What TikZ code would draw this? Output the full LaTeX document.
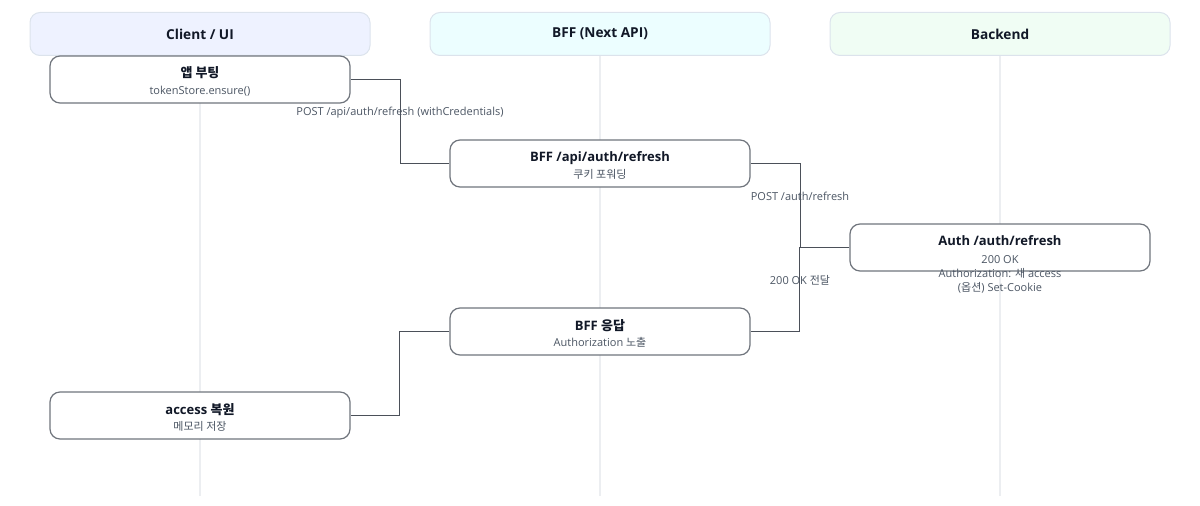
\documentclass[tikz,border=0pt]{standalone}
\usepackage{fontspec}
\setmainfont{Open Sans}
\newfontfamily\kr{Noto Sans CJK KR}
\usetikzlibrary{calc}
\definecolor{laneblue}{HTML}{EEF2FF}
\definecolor{lanecyan}{HTML}{ECFEFF}
\definecolor{lanegreen}{HTML}{F0FDF4}
\definecolor{laneedge}{HTML}{DCE3EC}
\definecolor{lifegray}{HTML}{ECEEF1}
\definecolor{cardedge}{HTML}{70757D}
\definecolor{wiregray}{HTML}{4B5059}
\definecolor{ink}{HTML}{111827}
\definecolor{subink}{HTML}{4B5563}
\tikzset{
  lane/.style={draw=laneedge,line width=0.75pt,rounded corners=7.5pt,
    minimum width=255pt,minimum height=32.25pt,text=ink,
    font=\bfseries\fontsize{10.25}{12}\selectfont},
  card/.style={draw=cardedge,fill=white,line width=0.9pt,rounded corners=7.5pt,
    minimum width=225pt,minimum height=35.25pt,inner sep=0pt},
  cardtitle/.style={anchor=base,inner sep=0pt,text=ink,
    font=\bfseries\fontsize{9.75}{11}\selectfont},
  cardsub/.style={anchor=base,inner sep=0pt,align=center,text=subink,
    font=\fontsize{8.25}{10.5}\selectfont},
  wire/.style={draw=wiregray,line width=1pt},
  wirelabel/.style={anchor=base,inner sep=0pt,text=subink,
    font=\fontsize{8.25}{9}\selectfont},
  life/.style={draw=lifegray,line width=1pt}
}
\begin{document}
\begin{tikzpicture}[x=0.75pt,y=-0.75pt]
  \useasboundingbox (0,0) rectangle (1200,506);
  % lanes
  \node[lane,fill=laneblue] (client) at (200,34) {Client / UI};
  \node[lane,fill=lanecyan] (bff) at (600,34) {BFF (Next API)};
  \node[lane,fill=lanegreen] (backend) at (1000,34) {Backend};
  \draw[life] (client.south) -- ++(0,440);
  \draw[life] (bff.south) -- ++(0,440);
  \draw[life] (backend.south) -- ++(0,440);
  % steps
  \node[card] (boot) at (200,79.5) {};
  \node[card] (bffreq) at (600,163.5) {};
  \node[card] (auth) at (1000,247.5) {};
  \node[card] (bffres) at (600,331.5) {};
  \node[card] (restore) at (200,415.5) {};
  % connectors
  \draw[wire] (boot.east) -- ++(50,0) |- (bffreq.west);
  \draw[wire] (bffreq.east) -- ++(50,0) |- (auth.west);
  \draw[wire] (auth.west) -- ++(-50,0) |- (bffres.east);
  \draw[wire] (bffres.west) -- ++(-50,0) |- (restore.east);
  \node[wirelabel] (postbff) at (400,115.5) {POST /api/auth/refresh (withCredentials)};
  \node[wirelabel] (postauth) at (800,200.5) {POST /auth/refresh};
  \node[wirelabel] (okfwd) at (800,284.5) {200 OK {\kr 전달}};
  % texts
  \node[cardtitle] (boott) at ($(boot.center)+(0,-1.5)$) {\kr 앱 부팅};
  \node[cardsub] (boots) at ($(boot.center)+(0,15)$) {tokenStore.ensure()};
  \node[cardtitle] (bffreqt) at ($(bffreq.center)+(0,-1.5)$) {BFF /api/auth/refresh};
  \node[cardsub] (bffreqs) at ($(bffreq.center)+(0,15)$) {\kr 쿠키 포워딩};
  \node[cardtitle] (autht) at ($(auth.center)+(0,-1.5)$) {Auth /auth/refresh};
  \node[cardsub] (auths) at ($(auth.center)+(0,44)$) {200 OK\\Authorization: {\kr 새} access\\({\kr 옵션}) Set-Cookie};
  \node[cardtitle] (bffrest) at ($(bffres.center)+(0,-1.5)$) {BFF {\kr 응답}};
  \node[cardsub] (bffress) at ($(bffres.center)+(0,15)$) {Authorization {\kr 노출}};
  \node[cardtitle] (restoret) at ($(restore.center)+(0,-1.5)$) {access {\kr 복원}};
  \node[cardsub] (restores) at ($(restore.center)+(0,15)$) {\kr 메모리 저장};
\end{tikzpicture}
\end{document}
